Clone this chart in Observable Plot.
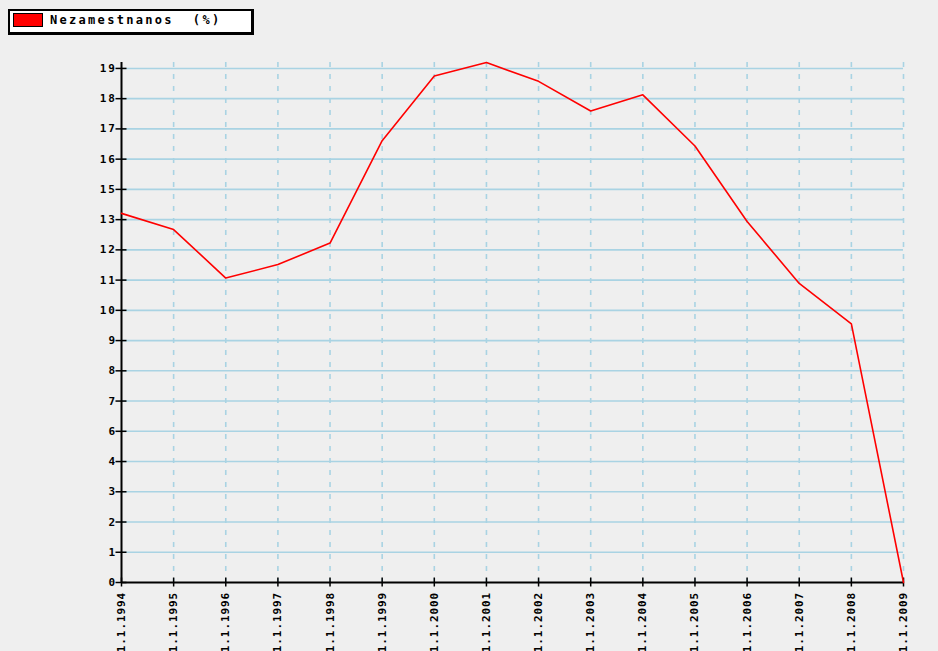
<!DOCTYPE html>
<html>
<head>
<meta charset="utf-8">
<script src="https://cdn.jsdelivr.net/npm/d3@7"></script>
<script src="https://cdn.jsdelivr.net/npm/@observablehq/plot@0.6"></script>
<style>
html, body { margin: 0; padding: 0; background: #efefef; overflow: hidden; }
#wrap { position: relative; width: 938px; height: 651px; }
#legend {
  position: absolute; left: 8px; top: 9px; width: 241px; height: 21px;
  background: #fff; border: 2px solid #000; border-right-width: 3px; border-bottom-width: 3px;
  font: bold 12px "DejaVu Sans Mono", monospace; letter-spacing: 2.3px; color: #000;
  display: flex; align-items: flex-start; z-index: 2;
}
#legend .sw { width: 28px; height: 12px; background: #ff0000; border: 1px solid #000; margin: 2px 7px 0 3px; }
#legend .lbl { margin-top: 2px; white-space: pre; }
#chart svg { display: block; }
#chart .yax text { letter-spacing: 2px; font-size: 11px; }
#chart .xax text { letter-spacing: 0.9px; font-size: 11px; }
</style>
</head>
<body>
<div id="wrap">
  <div id="legend"><div class="sw"></div><div class="lbl" id="lbl"></div></div>
  <div id="chart"></div>
</div>
<script>
// Data (unemployment rate, %)
const years = [1994, 1995, 1996, 1997, 1998, 1999, 2000, 2001, 2002, 2003, 2004, 2005, 2006, 2007, 2008, 2009];
const unemployment = [13.7, 13.1, 11.3, 11.8, 12.6, 16.4, 18.8, 19.3, 18.6, 17.5, 18.1, 16.2, 13.4, 11.1, 9.6, 0];
const seriesName = "Nezamestnanos  (%)";
// Tick labels as printed in the original (evenly spaced ticks, rounded labels)
const yTickLabels = [0, 1, 2, 3, 4, 6, 7, 8, 9, 10, 11, 12, 13, 15, 16, 17, 18, 19];
const xTickLabels = ["1.1.1994", "1.1.1995", "1.1.1996", "1.1.1997", "1.1.1998", "1.1.1999", "1.1.2000", "1.1.2001",
  "1.1.2002", "1.1.2003", "1.1.2004", "1.1.2005", "1.1.2006", "1.1.2007", "1.1.2008", "1.1.2009"];
const yTopTick = 19.08;
const yMax = 19.3;

document.getElementById("lbl").textContent = seriesName;

const yTicks = yTickLabels.map((_, i) => i * yTopTick / (yTickLabels.length - 1));
const rows = years.map((y, i) => ({year: y, value: unemployment[i]}));
const grid = "#a9d3e3";

const chart = Plot.plot({
  width: 938, height: 651,
  marginLeft: 121, marginRight: 35, marginTop: 62, marginBottom: 69,
  style: {background: "transparent", fontFamily: "'DejaVu Sans Mono', monospace", fontSize: "10px", fontWeight: "bold", color: "#000"},
  x: {domain: [years[0], years[years.length - 1]], label: null},
  y: {domain: [0, yMax], label: null},
  marks: [
    Plot.ruleY(yTicks.slice(1), {stroke: grid, strokeWidth: 1.6}),
    Plot.ruleX(years.slice(1), {stroke: grid, strokeWidth: 1.6, strokeDasharray: "5,7"}),
    Plot.ruleX([years[0]], {stroke: "#000", strokeWidth: 2}),
    Plot.ruleY([0], {stroke: "#000", strokeWidth: 2}),
    Plot.axisY({ticks: yTicks, tickFormat: d => String(yTickLabels[yTicks.indexOf(d)]), tickSize: 11, dx: 5.5, tickPadding: -1, strokeWidth: 1.5, label: null, className: "yax"}),
    Plot.axisX({ticks: years, tickFormat: d => xTickLabels[years.indexOf(d)], tickSize: 9, dy: -4.5, tickRotate: -90, tickPadding: 5, strokeWidth: 1.5, label: null, className: "xax"}),
    Plot.line(rows, {x: "year", y: "value", stroke: "#ff0000", strokeWidth: 1.6})
  ]
});
document.getElementById("chart").appendChild(chart);
</script>
</body>
</html>
